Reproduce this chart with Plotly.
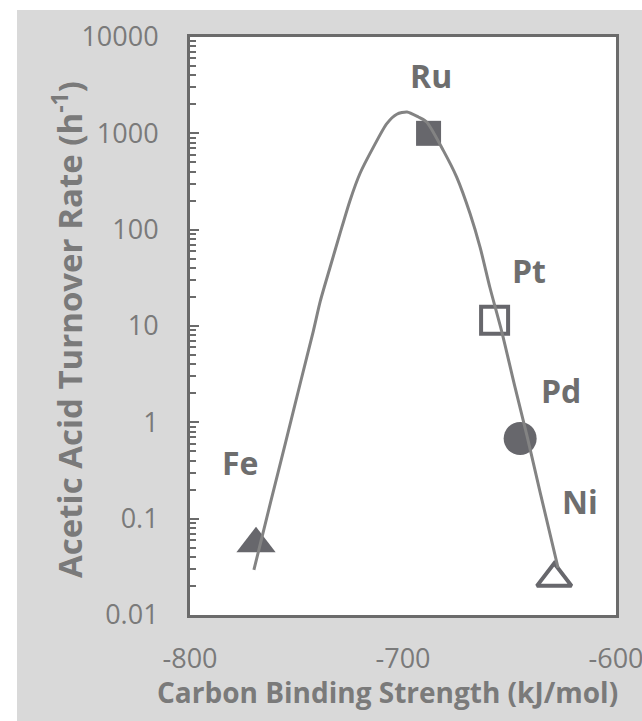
import math
import plotly.graph_objects as go

# ---- data ----
metals = ["Fe", "Ru", "Pt", "Pd", "Ni"]
binding = [-769, -688, -657, -645, -629]          # kJ/mol
rate = [0.055, 1000, 11.5, 0.68, 0.024]           # h^-1
symbols = ["triangle-up", "square", "square-open", "circle", "triangle-up-open"]

curve_x = [-770.0, -762.1, -755.0, -748.0, -742.1, -738.8, -734.3, -729.6,
           -724.9, -720.2, -713.9, -707.6, -702.9, -698.1, -692.8, -688.9, -681.1, -674.8,
           -668.5, -663.8, -659.2, -653.7, -647.3, -641.5, -635.7, -627.2]
curve_y = [0.0294, 0.150, 0.634, 2.67, 8.87, 18.2, 40.2, 90.8,
           200, 383, 719, 1262, 1578, 1667, 1479, 1312, 665, 351,
           146, 65.5, 25.1, 8.87, 2.26, 0.681, 0.191, 0.0309]

x_ticks = [-800, -700, -600]
x_ticktext = ["-800", "-700", "-600"]
y_ticks = [0.01, 0.1, 1, 10, 100, 1000, 10000]
y_ticktext = ["0.01", "0.1", "1", "10", "100", "1000", "10000"]

x_title = "Carbon Binding Strength (kJ/mol)"
y_title = "Acetic Acid Turnover Rate (h<sup>-1</sup>)"

# ---- styling ----
W, H = 642, 721
L, R, T, B = 190, 26, 37, 106
MARK = "#67676c"
LINE = "#838383"
TXT = "#7a7a7a"
AX = "#6b6b6b"
FONT = "Open Sans"

sizes = {"triangle-up": 34, "square": 25, "square-open": 27, "circle": 33, "triangle-up-open": 30}
label_shift = {"Fe": (-16, 81), "Ru": (2, 58), "Pt": (34, 50), "Pd": (41, 48), "Ni": (26, 77)}

fig = go.Figure()
for m, x, y, s in zip(metals, binding, rate, symbols):
    fig.add_trace(go.Scatter(
        x=[x], y=[y], mode="markers", name=m,
        marker=dict(symbol=s, size=sizes[s], color=MARK,
                    line=dict(color=MARK, width=4 if "open" in s else 0)),
    ))
    dx, dy = label_shift[m]
    fig.add_annotation(x=x, y=math.log10(y), text=f"<b>{m}</b>",
                       showarrow=False, xshift=dx, yshift=dy,
                       font=dict(family=FONT, size=32, color="#6e6e6e"))

fig.add_trace(go.Scatter(x=curve_x, y=curve_y, mode="lines", line_shape="spline",
                         line=dict(color=LINE, width=3, smoothing=0.7), name="fit"))

pw = W - L - R
ph = H - T - B


def px_x(p):
    return (p - L) / pw


def px_y(p):
    return (H - B - p) / ph


# axis titles (placed as in the reference)
fig.add_annotation(xref="paper", yref="paper", x=px_x(387), y=px_y(692),
                   xanchor="center", yanchor="middle", showarrow=False,
                   text=f"<b>{x_title}</b>", font=dict(family=FONT, size=28, color=TXT))
fig.add_annotation(xref="paper", yref="paper", x=px_x(67), y=px_y(330),
                   xanchor="center", yanchor="middle", showarrow=False, textangle=-90,
                   text=f"<b>{y_title}</b>", font=dict(family=FONT, size=33, color=TXT))

# white strips outside the grey chart area
fig.add_shape(type="rect", xref="paper", yref="paper", layer="below",
              x0=px_x(0), x1=px_x(17), y0=px_y(H), y1=px_y(0),
              fillcolor="white", line_width=0)
fig.add_shape(type="rect", xref="paper", yref="paper", layer="below",
              x0=px_x(0), x1=px_x(W), y0=px_y(10), y1=px_y(0),
              fillcolor="white", line_width=0)

fig.update_layout(
    width=W, height=H,
    margin=dict(l=L, r=R, t=T, b=B, pad=0, autoexpand=False),
    paper_bgcolor="#d9d9d9", plot_bgcolor="white",
    showlegend=False,
    font=dict(family=FONT, color=TXT),
)
fig.update_xaxes(
    range=[-800, -600], tickvals=x_ticks, ticktext=x_ticktext, ticks="",
    showgrid=False, zeroline=False, ticklabeloverflow="allow", automargin=False,
    showline=True, mirror=True, linecolor=AX, linewidth=3,
    tickfont=dict(size=27, color=TXT), ticklabelstandoff=18,
)
fig.update_yaxes(
    type="log", range=[-2, 4], tickvals=y_ticks, ticktext=y_ticktext,
    ticks="inside", ticklen=9, tickwidth=2, tickcolor=AX,
    minor=dict(ticks="inside", ticklen=6, tickwidth=2, tickcolor=AX, dtick="D1"),
    showgrid=False, zeroline=False, automargin=False,
    showline=True, mirror=True, linecolor=AX, linewidth=3,
    tickfont=dict(size=27, color=TXT), ticklabelstandoff=23,
)

fig.write_html("out.html")
